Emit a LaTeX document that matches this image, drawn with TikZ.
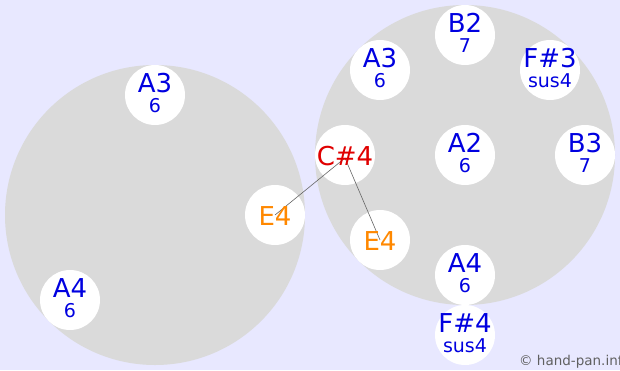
\documentclass[tikz,border=0pt]{standalone}
\usepackage{fontspec}
\setmainfont{DejaVu Sans}
\definecolor{bgc}{HTML}{E8E8FF}
\definecolor{panc}{HTML}{DADADA}
\definecolor{noteblue}{HTML}{0000E0}
\definecolor{notered}{HTML}{E00000}
\definecolor{noteorange}{HTML}{FF8800}
\definecolor{copyc}{HTML}{606060}
\tikzset{
  pan/.style={fill=panc},
  notecirc/.style={circle, fill=white, minimum size=60pt, inner sep=0pt},
  maintxt/.style={anchor=base, inner sep=0pt, font=\fontsize{26}{26}\selectfont},
  subtxt/.style={anchor=base, inner sep=0pt, font=\fontsize{19}{19}\selectfont},
  conn/.style={draw=black!60, line width=0.6pt},
}
\begin{document}
\begin{tikzpicture}[x=1pt,y=-1pt]
\fill[bgc] (0,0) rectangle (620,370);
\useasboundingbox (0,0) rectangle (620,370);
\fill[pan] (155,215) circle (150);
\fill[pan] (465,155) circle (150);
% circles
\node[notecirc] (la3) at (155,95) {};
\node[notecirc] (le4) at (275,215) {};
\node[notecirc] (la4) at (70,300) {};
\node[notecirc] (rb2) at (465,35) {};
\node[notecirc] (ra3) at (380,70) {};
\node[notecirc] (rf3) at (550,70) {};
\node[notecirc] (rc4) at (345,155) {};
\node[notecirc] (ra2) at (465,155) {};
\node[notecirc] (rb3) at (585,155) {};
\node[notecirc] (re4) at (380,240) {};
\node[notecirc] (ra4) at (465,275) {};
\node[notecirc] (rf4) at (465,335) {};
% connectors
\coordinate (c4pt) at (345,158);
\draw[conn] (c4pt) -- (le4.center);
\draw[conn] (c4pt) -- (re4.center);
% texts
\node[maintxt, text=noteblue] (la3m) at (155,92) {A3};
\node[subtxt, text=noteblue] (la3s) at (155,112) {6};
\node[maintxt, text=noteorange] (le4m) at (275,225) {E4};
\node[maintxt, text=noteblue] (la4m) at (70,297) {A4};
\node[subtxt, text=noteblue] (la4s) at (70,317) {6};
\node[maintxt, text=noteblue] (rb2m) at (465,32) {B2};
\node[subtxt, text=noteblue] (rb2s) at (465,52) {7};
\node[maintxt, text=noteblue] (ra3m) at (380,67) {A3};
\node[subtxt, text=noteblue] (ra3s) at (380,87) {6};
\node[maintxt, text=noteblue] (rf3m) at (550,67) {F\#3};
\node[subtxt, text=noteblue] (rf3s) at (550,87) {sus4};
\node[maintxt, text=notered] (rc4m) at (345,165) {C\#4};
\node[maintxt, text=noteblue] (ra2m) at (465,152) {A2};
\node[subtxt, text=noteblue] (ra2s) at (465,172) {6};
\node[maintxt, text=noteblue] (rb3m) at (585,152) {B3};
\node[subtxt, text=noteblue] (rb3s) at (585,172) {7};
\node[maintxt, text=noteorange] (re4m) at (380,250) {E4};
\node[maintxt, text=noteblue] (ra4m) at (465,272) {A4};
\node[subtxt, text=noteblue] (ra4s) at (465,292) {6};
\node[maintxt, text=noteblue] (rf4m) at (465,332) {F\#4};
\node[subtxt, text=noteblue] (rf4s) at (465,352) {sus4};
\node[anchor=base west, inner sep=0pt, text=copyc, font=\fontsize{13.5}{13.5}\selectfont] (copy) at (519,365) {© hand-pan.info};
\end{tikzpicture}
\end{document}
